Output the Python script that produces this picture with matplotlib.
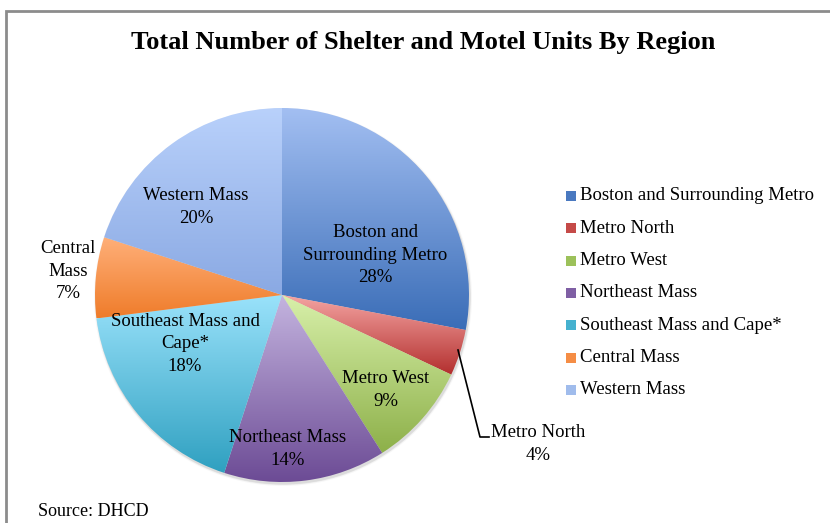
import numpy as np
import matplotlib
matplotlib.use("Agg")
import matplotlib.pyplot as plt
from matplotlib.colors import LinearSegmentedColormap
from matplotlib.patches import Circle

# Data
regions = ["Boston and Surrounding Metro", "Metro North", "Metro West",
           "Northeast Mass", "Southeast Mass and Cape*", "Central Mass",
           "Western Mass"]
shares = [28, 4, 9, 14, 18, 7, 20]
slice_labels = ["Boston and\nSurrounding Metro\n28%", "Metro North\n4%",
                "Metro West\n9%", "Northeast Mass\n14%",
                "Southeast Mass and\nCape*\n18%", "Central\nMass\n7%",
                "Western Mass\n20%"]

# light (top) -> dark (bottom) gradient per slice
top_colors = ["#a3bff2", "#f4a4a2", "#d8f0aa", "#c4b4df", "#9ae2fb", "#ffb07a", "#b9d1fb"]
bottom_colors = ["#3a6db7", "#b32f2e", "#8db049", "#6c4b95", "#2fa0c0", "#ef7c2a", "#8aa9e3"]
legend_colors = ["#4a79c0", "#c54a48", "#9cc15a", "#7f5fa4", "#45b1cf", "#f58d45", "#a0bcec"]

# label positions in pixels (x, y from top)
label_pos = [(375, 255), (538, 444), (386, 390), (288, 449), (185, 344), (68, 271), (196, 207)]

W, H = 830, 523
fig = plt.figure(figsize=(8.3, 5.23), dpi=100)
ax = fig.add_axes([0, 0, 1, 1])

font = "Liberation Serif"

cx, cy, r = 282, H - 295, 187

# soft shadow
for k, a in [(4, 0.03), (2, 0.05), (1, 0.06)]:
    ax.add_patch(Circle((cx + 1, cy - 2), r + k * 0.5, color="black", alpha=a, lw=0, zorder=0))

wedges, _ = ax.pie(shares, center=(cx, cy), radius=r, startangle=90, counterclock=False,
                   wedgeprops=dict(linewidth=0, edgecolor="none"), frame=True)
ax.set_xlim(0, W)
ax.set_ylim(0, H)
ax.set_aspect("equal")
ax.axis("off")

grad = np.linspace(1, 0, 256).reshape(-1, 1)
for w, c0, c1 in zip(wedges, top_colors, bottom_colors):
    ext = w.get_path().get_extents()
    cmap = LinearSegmentedColormap.from_list("g", [c1, c0])
    w.set_facecolor("none")
    im = ax.imshow(grad, cmap=cmap, aspect="auto", origin="upper",
                   extent=(ext.x0, ext.x1, ext.y0, ext.y1), zorder=1,
                   interpolation="bilinear")
    im.set_clip_path(w)

for (x, y), txt in zip(label_pos, slice_labels):
    ax.text(x, H - y, txt, ha="center", va="center", fontsize=13.5,
            family=font, linespacing=1.4, zorder=3)

# leader line for Metro North
ax.plot([458, 480, 489], [H - 350, H - 437, H - 437], color="black", lw=1.2, zorder=3)

ax.text(423, H - 42, "Total Number of Shelter and Motel Units By Region", ha="center",
        va="center", fontsize=19, fontweight="bold", family=font)

# legend
for i, (name, col) in enumerate(zip(regions, legend_colors)):
    y = H - (196 + i * 32.3)
    ax.add_patch(plt.Rectangle((566, y - 5), 10, 10, color=col, lw=0))
    ax.text(580, y, name, ha="left", va="center", fontsize=13.5, family=font)

ax.text(38, H - 512, "Source: DHCD", ha="left", va="center", fontsize=13, family=font)

# chart border
ax.plot([6, 6, W], [0, H - 11, H - 11], color="#8c8c8c", lw=2, solid_joinstyle="miter")

fig.savefig("out.png", dpi=100)
